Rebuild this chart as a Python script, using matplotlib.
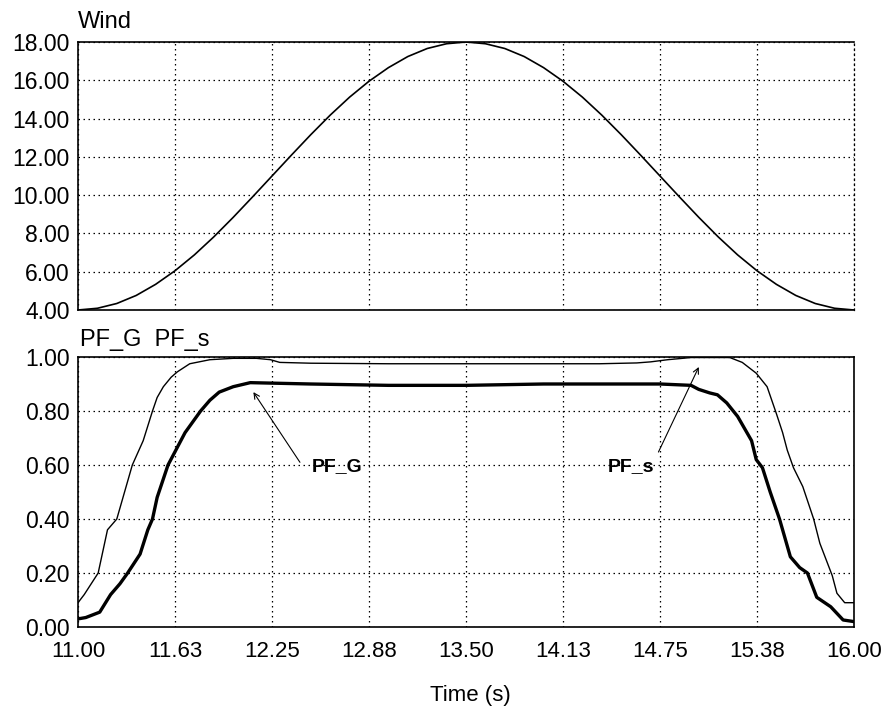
import matplotlib
matplotlib.use("Agg")
import matplotlib.pyplot as plt

plt.rcParams['font.family'] = ['Liberation Sans', 'DejaVu Sans']

# Wind speed over the simulation window
wind_t = [11.000, 11.125, 11.250, 11.375, 11.500, 11.625, 11.750, 11.875,
          12.000, 12.125, 12.250, 12.375, 12.500, 12.625, 12.750, 12.875,
          13.000, 13.125, 13.250, 13.375, 13.500, 13.625, 13.750, 13.875,
          14.000, 14.125, 14.250, 14.375, 14.500, 14.625, 14.750, 14.875,
          15.000, 15.125, 15.250, 15.375, 15.500, 15.625, 15.750, 15.875,
          16.000]
wind_v = [4.00, 4.09, 4.34, 4.76, 5.34, 6.05, 6.88, 7.82,
          8.84, 9.91, 11.00, 12.09, 13.16, 14.18, 15.12, 15.95,
          16.66, 17.24, 17.66, 17.91, 18.00, 17.91, 17.66, 17.24,
          16.66, 15.95, 15.12, 14.18, 13.16, 12.09, 11.00, 9.91,
          8.84, 7.82, 6.88, 6.05, 5.34, 4.76, 4.34, 4.09,
          4.00]

# Stator power factor
pfs_t = [11.00, 11.04, 11.13, 11.16, 11.19, 11.25, 11.30, 11.35, 11.42, 11.48,
         11.51, 11.55, 11.60, 11.64, 11.72, 11.85, 12.00, 12.15, 12.24, 12.30,
         12.50, 13.00, 13.50, 14.00, 14.36, 14.60, 14.69, 14.80, 14.95, 15.20,
         15.28, 15.37, 15.44, 15.50, 15.54, 15.57, 15.61, 15.67, 15.74, 15.78,
         15.86, 15.89, 15.94, 16.00]
pfs_v = [0.09, 0.12, 0.20, 0.28, 0.36, 0.40, 0.50, 0.60, 0.69, 0.80,
         0.85, 0.89, 0.925, 0.945, 0.975, 0.99, 0.995, 0.995, 0.99, 0.98,
         0.977, 0.975, 0.975, 0.975, 0.975, 0.978, 0.982, 0.99, 0.998, 0.998,
         0.98, 0.94, 0.89, 0.79, 0.72, 0.655, 0.59, 0.52, 0.40, 0.31,
         0.19, 0.125, 0.09, 0.09]

# Generator power factor
pfg_t = [11.00, 11.05, 11.14, 11.21, 11.27, 11.32, 11.40, 11.45, 11.48, 11.51,
         11.58, 11.69, 11.79, 11.85, 11.91, 12.00, 12.11, 12.50, 13.00, 13.50,
         14.00, 14.50, 14.75, 14.95, 15.00, 15.07, 15.12, 15.18, 15.25, 15.31,
         15.34, 15.37, 15.41, 15.46, 15.52, 15.59, 15.65, 15.70, 15.76, 15.85,
         15.93, 16.00]
pfg_v = [0.03, 0.035, 0.055, 0.12, 0.16, 0.20, 0.27, 0.36, 0.40, 0.48,
         0.60, 0.72, 0.80, 0.84, 0.87, 0.89, 0.905, 0.90, 0.895, 0.895,
         0.90, 0.90, 0.90, 0.895, 0.88, 0.867, 0.86, 0.83, 0.78, 0.72,
         0.69, 0.62, 0.59, 0.50, 0.40, 0.26, 0.22, 0.20, 0.11, 0.075,
         0.026, 0.02]

x_ticks = [11.0, 11.625, 12.25, 12.875, 13.5, 14.125, 14.75, 15.375, 16.0]
x_labels = ['11.00', '11.63', '12.25', '12.88', '13.50', '14.13', '14.75', '15.38', '16.00']
wind_ticks = [4, 6, 8, 10, 12, 14, 16, 18]
pf_ticks = [0.0, 0.2, 0.4, 0.6, 0.8, 1.0]

W, H = 887, 714
fig = plt.figure(figsize=(W / 100, H / 100), dpi=100)

def px_axes(x0, y0, x1, y1):
    return fig.add_axes([x0 / W, 1 - y1 / H, (x1 - x0) / W, (y1 - y0) / H])

ax1 = px_axes(78, 42, 854, 310)
ax2 = px_axes(78, 357, 854, 627)

grid_style = dict(color='black', linewidth=0.9, linestyle=(0, (1.2, 2.8)))

for ax in (ax1, ax2):
    ax.set_xlim(11.0, 16.0)
    ax.set_xticks(x_ticks)
    ax.tick_params(length=0, labelsize=16.5)
    for s in ax.spines.values():
        s.set_color('black')
        s.set_linewidth(1.2)
    ax.grid(True, **grid_style)
    ax.set_axisbelow(True)

# Wind panel
ax1.plot(wind_t, wind_v, color='black', linewidth=1.2)
ax1.set_ylim(4, 18)
ax1.set_yticks(wind_ticks)
ax1.set_yticklabels([f'{v:.2f}' for v in wind_ticks])
ax1.set_xticklabels([])
ax1.tick_params(axis='y', pad=6)
ax1.spines['right'].set_linestyle((0, (1.2, 2.8)))
ax1.spines['right'].set_linewidth(0.9)

# Power factor panel
ax2.plot(pfs_t, pfs_v, color='black', linewidth=1.0)
ax2.plot(pfg_t, pfg_v, color='black', linewidth=2.4)
ax2.set_ylim(0, 1.0)
ax2.set_yticks(pf_ticks)
ax2.set_yticklabels([f'{v:.2f}' for v in pf_ticks])
ax2.set_xticklabels(x_labels)
ax2.tick_params(axis='y', pad=6)
ax2.tick_params(axis='x', pad=10, labelsize=16)

arrow = dict(arrowstyle='->', color='black', linewidth=0.8, shrinkA=0, shrinkB=0)
ax2.text(12.67, 0.595, 'PF_G', fontsize=14, fontweight='bold', ha='center', va='center')
ax2.annotate('', xy=(12.13, 0.87), xytext=(12.43, 0.61), arrowprops=arrow)
ax2.text(14.56, 0.593, 'PF_s', fontsize=14, fontweight='bold', ha='center', va='center')
ax2.annotate('', xy=(15.00, 0.963), xytext=(14.74, 0.648), arrowprops=arrow)

fig.text(78 / W, 1 - 22 / H, 'Wind', fontsize=17, ha='left', va='center')
fig.text(80 / W, 1 - 340 / H, 'PF_G  PF_s', fontsize=17, ha='left', va='center')
fig.text(470 / W, 1 - 695 / H, 'Time (s)', fontsize=16, ha='center', va='center')

fig.savefig('out.png', dpi=100, facecolor='white')
